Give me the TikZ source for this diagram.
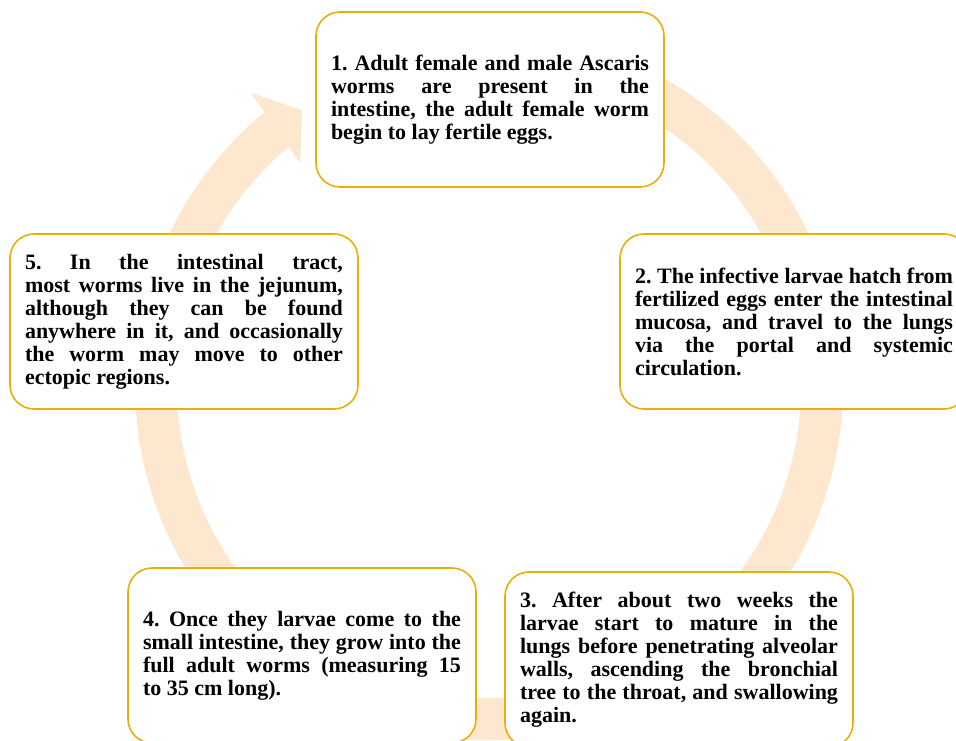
\documentclass[tikz,border=0pt]{standalone}
\usepackage{fontspec}
\setmainfont{Liberation Serif}
\definecolor{gold}{RGB}{234,174,10}
\definecolor{peach}{RGB}{253,232,207}

\begin{document}
\begin{tikzpicture}[x=1pt, y=1pt,
  stage/.style={draw=gold, line width=1.6pt, fill=white, rounded corners=24pt,
    minimum width=348pt, minimum height=175pt, text width=318pt, inner sep=0pt,
    align=justify, font=\fontsize{22}{23}\selectfont\bfseries\frenchspacing}]

\useasboundingbox (0,0) rectangle (956,740);

\coordinate (c) at (489,354);
\draw [peach, line width=42pt] ([shift={(115:333)}]c) arc [start angle=115, end angle=-231, radius=333];
\fill [peach] ([shift={(129.1:378)}]c) -- ([shift={(124.1:333)}]c) -- ([shift={(130.3:292)}]c) -- cycle;

\node [stage] (adult) at (490,640.5) {1. Adult female and male Ascaris\linebreak worms are present in the\linebreak intestine, the adult female worm\linebreak begin to lay fertile eggs.};
\node [stage] (hatch) at (794,418.5) {2. The infective larvae hatch from\linebreak fertilized eggs enter the intestinal\linebreak mucosa, and travel to the lungs\linebreak via the portal and systemic\linebreak circulation.};
\node [stage] (mature) at (679,80.5) {3. After about two weeks the\linebreak larvae start to mature in the\linebreak lungs before penetrating alveolar\linebreak walls, ascending the bronchial\linebreak tree to the throat, and swallowing\linebreak again.};
\node [stage] (grow) at (302,84.5) {4. Once they larvae come to the\linebreak small intestine, they grow into the\linebreak full adult worms (measuring 15\linebreak to 35 cm long).};
\node [stage] (live) at (184,418.5) {5. In the intestinal tract,\linebreak most worms live in the jejunum,\linebreak although they can be found\linebreak anywhere in it, and occasionally\linebreak the worm may move to other\linebreak ectopic regions.};

\end{tikzpicture}
\end{document}
